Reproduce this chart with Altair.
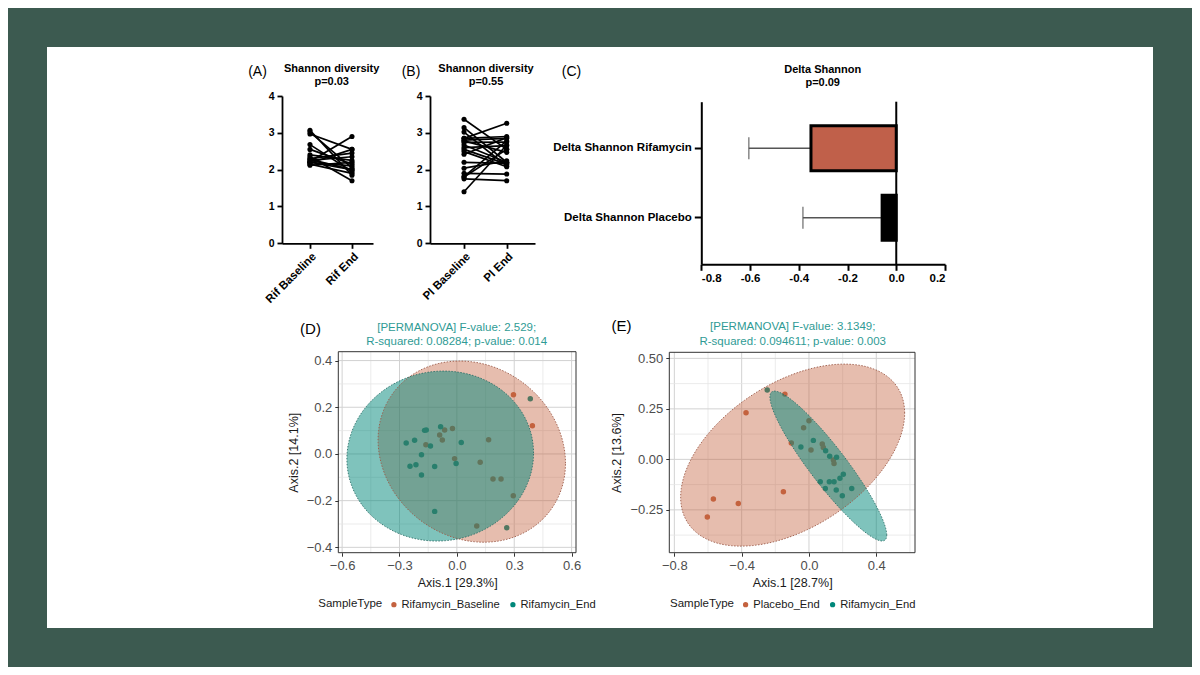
import altair as alt
import numpy as np
import pandas as pd

# ---------------- data ----------------
a_groups = ["Rif Baseline", "Rif End"]
a_baseline = [3.07, 3.02, 2.97, 2.68, 2.55, 2.40, 2.35, 2.30, 2.28, 2.25, 2.22, 2.20, 2.18, 2.15, 2.12, 2.20]
a_end = [1.85, 2.05, 2.55, 1.95, 2.15, 2.25, 1.70, 2.45, 2.00, 2.35, 2.90, 2.10, 2.55, 1.90, 2.20, 2.00]

b_groups = ["Pl Baseline", "Pl End"]
b_baseline = [3.37, 3.14, 2.85, 3.02, 2.85, 2.80, 2.78, 2.74, 2.67, 2.60, 2.55, 2.49, 2.42, 2.20, 2.04, 1.90, 1.81, 1.75, 1.40, 1.80]
b_end = [2.55, 2.20, 3.26, 2.10, 2.90, 2.85, 2.47, 2.75, 2.20, 2.65, 2.15, 2.08, 2.87, 2.17, 2.24, 1.88, 2.78, 1.70, 2.67, 2.55]

c_groups = ["Delta Shannon Rifamycin", "Delta Shannon Placebo"]
c_mean = [-0.350, -0.058]
c_low = [-0.605, -0.383]

d_types = ["Rifamycin_Baseline", "Rifamycin_End"]
d_base_x = [0.296, 0.395, -0.023, -0.064, -0.090, -0.076, -0.162, -0.012, 0.166, 0.122, 0.189, 0.231, 0.295, 0.104]
d_base_y = [0.254, 0.121, 0.109, 0.103, 0.081, 0.060, 0.039, -0.020, 0.061, -0.036, -0.107, -0.107, -0.179, -0.309]
d_end_x = [0.384, -0.085, -0.169, -0.160, -0.221, -0.265, -0.138, 0.023, -0.185, -0.245, -0.214, -0.116, -0.004, -0.185, -0.116, 0.261]
d_end_y = [0.236, 0.117, 0.101, 0.103, 0.059, 0.047, 0.034, 0.049, -0.003, -0.053, -0.046, -0.054, -0.041, -0.090, -0.246, -0.316]
# ellipse: centre x, centre y, half-width, half-height, phase
d_ell = [(0.078, 0.010, 0.490, 0.388, -0.129), (-0.087, -0.009, 0.488, 0.364, 0.035)]

e_types = ["Placebo_End", "Rifamycin_End"]
e_pl_x = [-0.374, -0.568, -0.420, -0.604, -0.152, -0.143, 0.000, -0.032, -0.105, 0.012, 0.079, 0.085, 0.145, 0.149]
e_pl_y = [0.231, -0.196, -0.219, -0.285, -0.160, 0.323, 0.191, 0.156, 0.081, 0.046, 0.076, 0.059, -0.003, -0.020]
e_rif_x = [-0.248, -0.048, 0.026, 0.099, 0.123, 0.164, 0.121, 0.149, 0.097, 0.184, 0.204, 0.162, 0.198, 0.254, 0.067]
e_rif_y = [0.343, 0.061, 0.094, 0.043, 0.016, 0.010, -0.111, -0.111, -0.144, -0.094, -0.074, -0.152, -0.180, -0.144, -0.111]
e_ell = [(-0.097, 0.021, 0.6655, 0.4505, 0.48), (0.115, -0.033, 0.347, 0.371, -1.17)]

# ---------------- layout / style ----------------
M = 8
W, H = 1184, 659
FONT = "Liberation Sans"
BG = "#3c5a50"
ORANGE = "#c4623f"
TEAL = "#00877a"
BAR_RED = "#c0604a"
TITLE_TEAL = "#2f9b95"
ONE = pd.DataFrame({"k": [0]})


def X(p):
    return p - M


def Y(p):
    return p - M


def text(s, x, y, size, weight="normal", color="black", align="center"):
    return alt.Chart(ONE).mark_text(
        text=s, font=FONT, fontSize=size, fontWeight=weight, color=color,
        align=align, baseline="middle"
    ).encode(x=alt.value(X(x)), y=alt.value(Y(y)))


def left_axis(px, **kw):
    return alt.Axis(orient="left", offset=-X(px), grid=False, zindex=1, **kw)


def bottom_axis(py, **kw):
    return alt.Axis(orient="bottom", offset=Y(py) - H, grid=False, zindex=1, **kw)


def paired_panel(groups, base, end, x0, x1, pad, align):
    n = len(base)
    df = pd.DataFrame({
        "id": list(range(n)) * 2,
        "group": [groups[0]] * n + [groups[1]] * n,
        "value": list(base) + list(end),
    })
    xs = alt.Scale(type="point", domain=groups, range=[X(x0), X(x1)], padding=pad, align=align)
    ys = alt.Scale(domain=[0, 4], range=[Y(243.3), Y(96)], nice=False, zero=False)
    xa = bottom_axis(243.3, title=None, domainColor="black", domainWidth=1.8, tickColor="black",
                     tickWidth=1.8, tickSize=5, labelAngle=-45, labelFont=FONT, labelFontSize=11.5,
                     labelFontWeight="bold", labelColor="black", labelPadding=2)
    ya = left_axis(x0, title=None, values=[0, 1, 2, 3, 4], format="d", domainColor="black",
                   domainWidth=1.8, tickColor="black", tickWidth=1.8, tickSize=5, labelFont=FONT,
                   labelFontSize=10.5, labelFontWeight="bold", labelColor="black", labelPadding=3)
    enc = dict(x=alt.X("group:N", scale=xs, axis=xa), y=alt.Y("value:Q", scale=ys, axis=ya))
    lines = alt.Chart(df).mark_line(color="black", strokeWidth=1.7).encode(detail="id:N", **enc)
    pts = alt.Chart(df).mark_circle(color="black", size=26, opacity=1).encode(**enc)
    return alt.layer(lines, pts)


# ---------------- panel C ----------------
dfC = pd.DataFrame({"group": c_groups, "mean": c_mean, "low": c_low})
xsC = alt.Scale(domain=[-0.8, 0.2], range=[X(701.3), X(945)], nice=False, zero=False)
ysC = alt.Scale(type="band", domain=c_groups, range=[Y(101.7), Y(264.3)],
                paddingInner=0.353, paddingOuter=0.346)
xaC = bottom_axis(264.3, title=None, values=[-0.8, -0.6, -0.4, -0.2, 0.0, 0.2],
                  labelExpr="replace(format(datum.value, '.1f'), '\u2212', '-')",
                  domainColor="black", domainWidth=2, tickColor="black", tickWidth=2, tickSize=6,
                  labelFont=FONT, labelFontSize=11.5, labelFontWeight="bold", labelColor="black",
                  labelPadding=2)
yaC = left_axis(701.3, title=None, domainColor="black", domainWidth=2, tickColor="black",
                tickWidth=2, tickSize=7, labelFont=FONT, labelFontSize=11.5, labelFontWeight="bold",
                labelColor="black", labelPadding=3)
yC = alt.Y("group:N", scale=ysC, axis=yaC)
barsC = alt.Chart(dfC).mark_bar(stroke="black", strokeWidth=3).encode(
    x=alt.X("mean:Q", scale=xsC, axis=xaC),
    x2=alt.X2(datum=0),
    y=yC,
    color=alt.Color("group:N", scale=alt.Scale(domain=c_groups, range=[BAR_RED, "#000000"]), legend=None),
)
errC = alt.Chart(dfC).mark_rule(color="#555555", strokeWidth=1.5).encode(
    x=alt.X("low:Q", scale=xsC, axis=xaC), x2="mean:Q", y=yC)
capC = alt.Chart(dfC).mark_tick(color="#555555", thickness=1.5, size=22, orient="vertical").encode(
    x=alt.X("low:Q", scale=xsC, axis=xaC), y=yC)
zeroC = alt.Chart(ONE).mark_rule(color="black", strokeWidth=2).encode(
    x=alt.X(datum=0, type="quantitative", scale=xsC, axis=xaC),
    y=alt.value(Y(101.7)), y2=alt.value(Y(264.3)))
panelC = alt.layer(errC, capC, barsC, zeroC)


# ---------------- PCoA panels ----------------
def pcoa_panel(types, pts_xy, ells, xdom, ydom, xr, yr, xmaj, xmin, ymaj, ymin,
               xfmt, yfmt, xtitle, ytitle, leg_x, leg_y):
    colors = [ORANGE, TEAL]
    rows = []
    for t, (xs_, ys_) in zip(types, pts_xy):
        for a, b in zip(xs_, ys_):
            rows.append({"x": a, "y": b, "type": t})
    dfp = pd.DataFrame(rows)
    xs = alt.Scale(domain=xdom, range=[X(xr[0]), X(xr[1])], nice=False, zero=False)
    ys = alt.Scale(domain=ydom, range=[Y(yr[0]), Y(yr[1])], nice=False, zero=False)
    xa = bottom_axis(yr[0], values=xmaj, format=xfmt, domain=False, tickColor="#333333", tickWidth=1,
                     tickSize=3.5, labelColor="#4d4d4d", labelFontSize=13, labelFont=FONT,
                     labelPadding=3, title=xtitle, titleFont=FONT, titleFontSize=12.5,
                     titleFontWeight="normal", titleColor="#1a1a1a", titlePadding=4)
    ya = left_axis(xr[0], values=ymaj, format=yfmt, domain=False, tickColor="#333333", tickWidth=1,
                   tickSize=3.5, labelColor="#4d4d4d", labelFontSize=13, labelFont=FONT,
                   labelPadding=3, title=ytitle, titleFont=FONT, titleFontSize=12.5,
                   titleFontWeight="normal", titleColor="#1a1a1a", titlePadding=6)

    def fx(field):
        return alt.X(field, type="quantitative", scale=xs, axis=xa)

    def fy(field):
        return alt.Y(field, type="quantitative", scale=ys, axis=ya)

    def dx(v):
        return alt.X(datum=v, type="quantitative", scale=xs, axis=xa)

    def dy(v):
        return alt.Y(datum=v, type="quantitative", scale=ys, axis=ya)

    layers = []
    for vals, col, w in [(xmin, "#e6e6e6", 0.8), (xmaj, "#d2d2d2", 1.0)]:
        layers.append(alt.Chart(pd.DataFrame({"v": vals})).mark_rule(color=col, strokeWidth=w).encode(
            x=fx("v"), y=dy(ydom[0]), y2=alt.Y2(datum=ydom[1])))
    for vals, col, w in [(ymin, "#e6e6e6", 0.8), (ymaj, "#d2d2d2", 1.0)]:
        layers.append(alt.Chart(pd.DataFrame({"v": vals})).mark_rule(color=col, strokeWidth=w).encode(
            y=fy("v"), x=dx(xdom[0]), x2=alt.X2(datum=xdom[1])))
    layers.append(alt.Chart(dfp).mark_circle(size=30, opacity=1).encode(
        x=fx("x"), y=fy("y"),
        color=alt.Color("type:N", scale=alt.Scale(domain=types, range=colors),
                        legend=alt.Legend(orient="none", legendX=X(leg_x), legendY=Y(leg_y),
                                          direction="horizontal", titleOrient="left",
                                          title="SampleType", titleFont=FONT, titleFontSize=11.5,
                                          titleFontWeight="normal", titleColor="#1a1a1a",
                                          labelFont=FONT, labelFontSize=11.2, labelColor="#1a1a1a",
                                          symbolType="circle", symbolSize=28, symbolStrokeWidth=0,
                                          labelOffset=2, columnPadding=7, titlePadding=6))))
    outl = []
    for (cx, cy, A, B, ph), col, op, sc in zip(ells, colors, [0.42, 0.5], ["#9b5a48", "#2d6f69"]):
        t = np.linspace(0, np.pi, 120)
        dfa = pd.DataFrame({"x": cx + A * np.cos(t), "y": cy + B * np.sin(t + ph),
                            "y2": cy + B * np.sin(ph - t)})
        layers.append(alt.Chart(dfa).mark_area(color=col, opacity=op, orient="vertical").encode(
            x=fx("x"), y=fy("y"), y2="y2:Q"))
        t2 = np.linspace(0, 2 * np.pi, 241)
        dfo = pd.DataFrame({"x": cx + A * np.cos(t2), "y": cy + B * np.sin(t2 + ph),
                            "o": np.arange(len(t2))})
        outl.append(alt.Chart(dfo).mark_line(color=sc, strokeWidth=0.9, strokeDash=[1.5, 1.5]).encode(
            x=fx("x"), y=fy("y"), order="o:Q"))
    layers += outl
    layers.append(alt.Chart(ONE).mark_rect(fillOpacity=0, stroke="#333333", strokeWidth=1).encode(
        x=dx(xdom[0]), x2=alt.X2(datum=xdom[1]), y=dy(ydom[0]), y2=alt.Y2(datum=ydom[1])))
    return alt.layer(*layers)


panelA = paired_panel(a_groups, a_baseline, a_end, 282, 373, 0.583, 0.571)
panelB = paired_panel(b_groups, b_baseline, b_end, 430, 535, 0.73, 0.546)

panelD = pcoa_panel(d_types, [(d_base_x, d_base_y), (d_end_x, d_end_y)], d_ell,
                    [-0.62, 0.623], [-0.423, 0.438], (338.3, 576), (552.7, 351.7),
                    [-0.6, -0.3, 0.0, 0.3, 0.6], [-0.45, -0.15, 0.15, 0.45],
                    [-0.4, -0.2, 0.0, 0.2, 0.4], [-0.3, -0.1, 0.1, 0.3],
                    ".1f", ".1f", "Axis.1 [29.3%]", "Axis.2 [14.1%]", 318.3, 599)
panelE = pcoa_panel(e_types, [(e_pl_x, e_pl_y), (e_rif_x, e_rif_y)], e_ell,
                    [-0.83, 0.63], [-0.462, 0.53], (669.3, 915), (552.7, 352.3),
                    [-0.8, -0.4, 0.0, 0.4], [-0.6, -0.2, 0.2, 0.6],
                    [-0.25, 0.0, 0.25, 0.5], [-0.375, -0.125, 0.125, 0.375],
                    ".1f", ".2f", "Axis.1 [28.7%]", "Axis.2 [13.6%]", 670, 599)

bg = alt.Chart(ONE).mark_rect(color="white").encode(
    x=alt.value(X(47)), x2=alt.value(X(1153)), y=alt.value(Y(47)), y2=alt.value(Y(628)))

texts = [
    text("(A)", 257.5, 72, 14, align="center"),
    text("Shannon diversity", 331.7, 69, 11, "bold"),
    text("p=0.03", 331.7, 82, 11, "bold"),
    text("(B)", 411, 72, 14),
    text("Shannon diversity", 486, 69, 11, "bold"),
    text("p=0.55", 486, 82, 11, "bold"),
    text("(C)", 571.5, 72, 14),
    text("Delta Shannon", 822.7, 70, 11, "bold"),
    text("p=0.09", 822.7, 83, 11, "bold"),
    text("(D)", 310.5, 329, 15),
    text("[PERMANOVA] F-value: 2.529;", 456.7, 328.3, 11.5, color=TITLE_TEAL),
    text("R-squared: 0.08284; p-value: 0.014", 456.7, 342.3, 11.5, color=TITLE_TEAL),
    text("(E)", 621.5, 326, 15),
    text("[PERMANOVA] F-value: 3.1349;", 792.7, 327, 11.5, color=TITLE_TEAL),
    text("R-squared: 0.094611; p-value: 0.003", 792.7, 342.3, 11.5, color=TITLE_TEAL),
]

chart = alt.layer(bg, panelA, panelB, panelC, panelD, panelE, *texts).resolve_scale(
    x="independent", y="independent", color="independent"
).properties(
    width=W, height=H, autosize=alt.AutoSizeParams(type="none"), padding=0
).configure(background=BG, font=FONT).configure_view(stroke=None)

chart.save("out.html", embed_options={"renderer": "svg", "actions": False})
